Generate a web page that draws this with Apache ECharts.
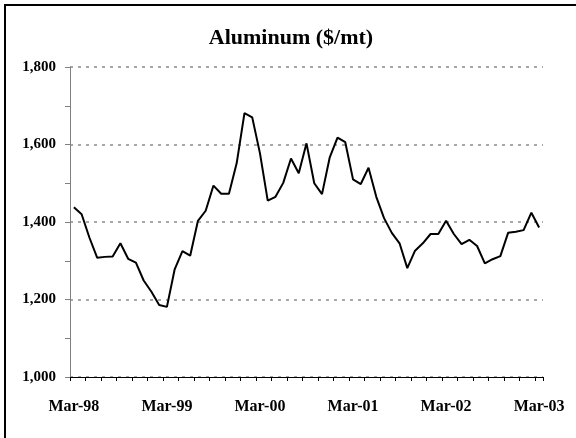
<!DOCTYPE html>
<html>
	<head>
		<meta charset="utf-8" />
		<title>Aluminum</title>
		<script src="https://cdn.jsdelivr.net/npm/echarts@6/dist/echarts.min.js" type="text/javascript" charset="utf-8"></script>
		<style type="text/css">
			html, body { margin: 0; padding: 0; background: #fff; }
			#chart { width: 576px; height: 438px; }
		</style>
	</head>
	<body>
		<div id="chart"></div>
		<script type="text/javascript">
			// monthly, Mar-98 .. Mar-03
			var monthNames = ["Jan","Feb","Mar","Apr","May","Jun","Jul","Aug","Sep","Oct","Nov","Dec"];
			var startYear = 1998, startMonth = 2, monthCount = 61;

			var prices = [
				1438, 1420, 1360, 1308, 1310, 1311, 1345, 1305, 1295, 1249, 1220, 1186,
				1181, 1278, 1325, 1313, 1403, 1429, 1494, 1473, 1473, 1552, 1681, 1670,
				1577, 1455, 1465, 1501, 1564, 1526, 1603, 1500, 1472, 1567, 1618, 1606,
				1510, 1498, 1540, 1465, 1410, 1372, 1345, 1281, 1326, 1345, 1369, 1369,
				1403, 1369, 1343, 1354, 1338, 1293, 1304, 1312, 1372, 1375, 1379, 1424,
				1386
			];

			var months = [];
			for ( var i = 0 ; i < monthCount ; i ++ ){
				var m = (startMonth + i) % 12;
				var y = startYear + Math.floor((startMonth + i) / 12);
				months.push(monthNames[m] + "-" + String(y).slice(2));
			}

			var chart = echarts.init(document.getElementById("chart"));

			var option = {
				animation: false,
				backgroundColor: '#fff',
				graphic: [{
					type: 'rect',
					shape: {x: 5, y: 5, width: 620, height: 480},
					style: {fill: 'none', stroke: '#000', lineWidth: 2}
				}],
				title: {
					text: 'Aluminum ($/mt)',
					left: 286,
					textAlign: 'center',
					top: 22,
					textStyle: {
						fontFamily: 'Liberation Serif',
						fontSize: 22,
						fontWeight: 'bold',
						color: '#000'
					}
				},
				grid: {
					left: 70,
					right: 33,
					top: 67,
					bottom: 61
				},
				xAxis: {
					type: 'category',
					data: months,
					boundaryGap: true,
					axisLine: {lineStyle: {color: '#000', width: 1}},
					axisTick: {show: true, interval: 1, length: 4, lineStyle: {color: '#000'}},
					axisLabel: {
						interval: 11,
						margin: 22,
						fontFamily: 'Liberation Serif',
						fontSize: 16,
						fontWeight: 'bold',
						color: '#000'
					},
					splitLine: {show: false}
				},
				yAxis: {
					type: 'value',
					min: 1000,
					max: 1800,
					interval: 200,
					axisLine: {show: true, lineStyle: {color: '#808080', width: 1}},
					axisTick: {show: true, length: 5, lineStyle: {color: '#808080'}},
					minorTick: {show: true, splitNumber: 2, length: 5, lineStyle: {color: '#808080'}},
					axisLabel: {
						margin: 14,
						fontFamily: 'Liberation Serif',
						fontSize: 15,
						fontWeight: 'bold',
						color: '#000',
						formatter: function(v){
							return v.toLocaleString('en-US');
						}
					},
					splitLine: {
						show: true,
						lineStyle: {color: '#8c8c8c', type: [3, 5], width: 1.5}
					}
				},
				series: [{
					type: 'line',
					data: prices,
					showSymbol: false,
					symbol: 'none',
					lineStyle: {color: '#000', width: 2},
					itemStyle: {color: '#000'}
				}]
			};
			chart.setOption(option);
		</script>
	</body>
</html>
